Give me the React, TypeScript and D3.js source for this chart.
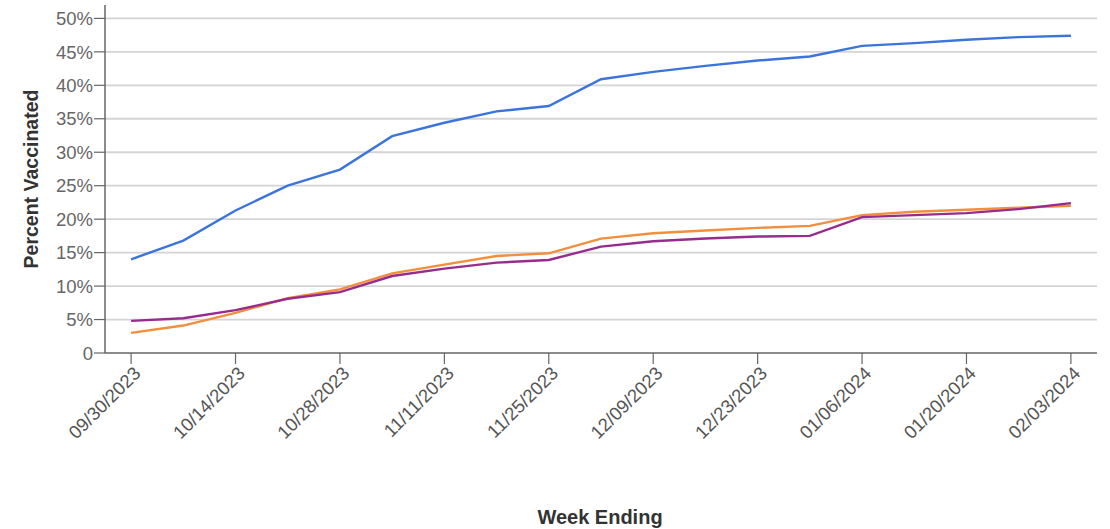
import * as d3 from "d3"

const weeks = [
  "09/30/2023", "10/07/2023", "10/14/2023", "10/21/2023", "10/28/2023",
  "11/04/2023", "11/11/2023", "11/18/2023", "11/25/2023", "12/02/2023",
  "12/09/2023", "12/16/2023", "12/23/2023", "12/30/2023", "01/06/2024",
  "01/13/2024", "01/20/2024", "01/27/2024", "02/03/2024",
]
const tickWeeks = [
  "09/30/2023", "10/14/2023", "10/28/2023", "11/11/2023", "11/25/2023",
  "12/09/2023", "12/23/2023", "01/06/2024", "01/20/2024", "02/03/2024",
]
const yTicks = [0, 5, 10, 15, 20, 25, 30, 35, 40, 45, 50]

const blue = [14.0, 16.8, 21.3, 25.0, 27.4, 32.4, 34.4, 36.1, 36.9, 40.9, 42.0, 42.9, 43.7, 44.3, 45.9, 46.3, 46.8, 47.2, 47.4]
const orange = [3.0, 4.1, 6.0, 8.2, 9.5, 11.9, 13.2, 14.5, 14.9, 17.1, 17.9, 18.3, 18.7, 19.0, 20.6, 21.1, 21.4, 21.7, 22.0]
const purple = [4.8, 5.2, 6.4, 8.1, 9.1, 11.5, 12.6, 13.5, 13.9, 15.9, 16.7, 17.1, 17.4, 17.5, 20.3, 20.6, 20.9, 21.5, 22.4]

const series = [
  {name: "blue", values: blue, color: "#3b74dc"},
  {name: "orange", values: orange, color: "#f28e3c"},
  {name: "purple", values: purple, color: "#982c8c"},
]

export default function App() {
  const width = 1110
  const height = 529
  const margin = {top: 5, right: 13, bottom: 176, left: 105}

  const x = d3
    .scalePoint<string>()
    .domain(weeks)
    .range([margin.left, width - margin.right])
    .padding(0.5)
  const y = d3
    .scaleLinear()
    .domain([0, 52])
    .range([height - margin.bottom, margin.top])

  const line = d3
    .line<number>()
    .x((_, i) => x(weeks[i])!)
    .y((d) => y(d))

  const font = "Liberation Sans, Arial, sans-serif"
  const y0 = y(0)

  return (
    <svg
      width={width}
      height={height}
      style={{position: "absolute", left: 0, top: 0, background: "#fff"}}
      fontFamily={font}
    >
      {/* gridlines */}
      {yTicks.slice(1).map((t) => (
        <line
          key={t}
          x1={margin.left}
          x2={width - margin.right}
          y1={y(t)}
          y2={y(t)}
          stroke="#d4d4d4"
          strokeWidth={1.8}
        />
      ))}

      {/* y axis */}
      <line x1={margin.left} x2={margin.left} y1={margin.top} y2={y0} stroke="#666" strokeWidth={1.5} />
      {yTicks.map((t) => (
        <g key={t} transform={`translate(${margin.left},${y(t)})`}>
          <line x1={-11} x2={0} stroke="#666" strokeWidth={1.2} />
          <text x={-12} dy="0.36em" textAnchor="end" fontSize={18.5} fill="#666">
            {t === 0 ? "0" : `${t}%`}
          </text>
        </g>
      ))}

      {/* x axis */}
      <line x1={margin.left} x2={width - margin.right} y1={y0} y2={y0} stroke="#666" strokeWidth={1.5} />
      {tickWeeks.map((w) => (
        <g key={w} transform={`translate(${x(w)},${y0})`}>
          <line y1={0} y2={11} stroke="#666" strokeWidth={1.2} />
          <text
            transform="translate(6,17) rotate(-45)"
            textAnchor="end"
            dy="0.35em"
            fontSize={18.5}
            fill="#555"
          >
            {w}
          </text>
        </g>
      ))}

      {/* lines */}
      {series.map((s) => (
        <path key={s.name} d={line(s.values)!} fill="none" stroke={s.color} strokeWidth={2.4} />
      ))}

      {/* titles */}
      <text
        transform={`translate(38,${(margin.top + y0) / 2}) rotate(-90)`}
        textAnchor="middle"
        fontSize={19.5}
        fontWeight="bold"
        fill="#333"
      >
        Percent Vaccinated
      </text>
      <text x={600} y={524} textAnchor="middle" fontSize={20} fontWeight="bold" fill="#333">
        Week Ending
      </text>
    </svg>
  )
}
